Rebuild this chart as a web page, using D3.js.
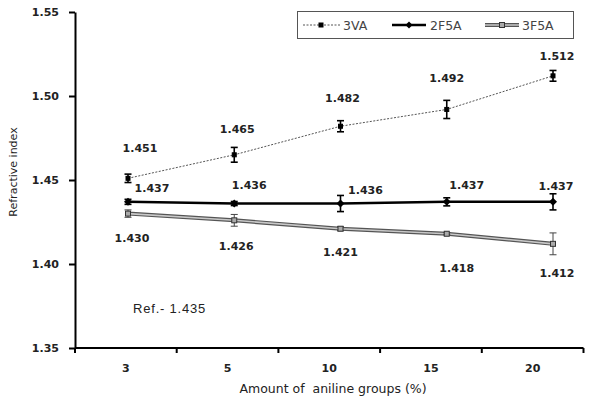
<!DOCTYPE html>
<html lang="en">
<head>
<meta charset="UTF-8">
<title>Refractive index</title>
<script src="https://d3js.org/d3.v7.min.js"></script>
<style>
    body { margin: 0; background: #fff; }
    text { font-family: "DejaVu Sans", sans-serif; }
    .val { font-size: 11px; font-weight: bold; fill: #222; }
    .tick text { font-size: 11px; font-weight: bold; fill: #222; }
</style>
</head>
<body>
<svg width="605" height="403"></svg>
<script>
    // data
    var categories = ["3", "5", "10", "15", "20"];
    var yTicks = [1.35, 1.40, 1.45, 1.50, 1.55];

    var va3     = [1.451, 1.465, 1.482, 1.492, 1.512];
    var va3Err  = [0.0025, 0.0044, 0.0033, 0.0054, 0.0032];
    var f5a2    = [1.437, 1.436, 1.436, 1.437, 1.437];
    var f5a2Err = [0.0015, 0.0012, 0.0048, 0.0024, 0.0048];
    var f5a3    = [1.430, 1.426, 1.421, 1.418, 1.412];
    var f5a3Err = [0.0022, 0.0035, 0.0012, 0.0006, 0.0065];

    // label offsets in px from each point (layout only)
    var va3Off  = [[12, -26], [3, -22], [2, -24], [0, -27], [4, -16]];
    var f5a2Off = [[24, -10], [15, -15], [25, -10], [20, -13], [3, -12]];
    var f5a3Off = [[4, 28], [2, 30], [0, 27], [10, 38], [4, 33]];

    var svg = d3.select("svg");

    var x = d3.scaleBand().domain(categories).range([75, 583.5]).padding(0);
    var xp = d3.scalePoint().domain(categories).range([128, 553]);
    var y = d3.scaleLinear().domain([1.35, 1.55]).range([348, 12]);

    // x axis
    var gx = svg.append("g").attr("transform", "translate(0,348)");
    gx.append("line").attr("x1", 75).attr("x2", 583.5)
        .attr("stroke", "#000").attr("stroke-width", 2);
    gx.selectAll(".xt").data(categories.concat(["end"]))
        .enter().append("line")
        .attr("x1", function(d, i) { return i < categories.length ? x(d) : x.range()[1]; })
        .attr("x2", function(d, i) { return i < categories.length ? x(d) : x.range()[1]; })
        .attr("y1", 0).attr("y2", 5)
        .attr("stroke", "#000").attr("stroke-width", 2);
    gx.selectAll(".xl").data(categories)
        .enter().append("text")
        .attr("class", "val")
        .attr("x", function(d) { return x(d) + x.bandwidth() / 2; })
        .attr("y", 24)
        .attr("text-anchor", "middle")
        .text(function(d) { return d; });

    // y axis
    var gy = svg.append("g").attr("transform", "translate(75,0)");
    gy.call(d3.axisLeft(y).tickValues(yTicks).tickFormat(d3.format(".2f"))
        .tickSizeInner(6).tickSizeOuter(0).tickPadding(10));
    gy.select(".domain").attr("stroke-width", 2);
    gy.selectAll(".tick line").attr("stroke-width", 2);

    svg.append("text")
        .attr("transform", "translate(17,172) rotate(-90)")
        .attr("text-anchor", "middle")
        .style("font-size", "11px").style("fill", "#222")
        .text("Refractive index");

    svg.append("text")
        .attr("x", 333).attr("y", 393)
        .attr("text-anchor", "middle")
        .style("font-size", "12.5px").style("fill", "#222")
        .style("white-space", "pre")
        .text("Amount of  aniline groups (%)");

    svg.append("text")
        .attr("x", 133).attr("y", 313)
        .style("font-size", "13px").style("fill", "#222")
        .style("letter-spacing", "0.8px")
        .style("font-family", "'Liberation Sans', sans-serif")
        .text("Ref.- 1.435");

    function pts(vals) {
        return vals.map(function(v, i) { return [xp(categories[i]), y(v)]; });
    }
    var line = d3.line();

    // 3F5A: grey double line
    svg.append("path").attr("d", line(pts(f5a3)))
        .attr("fill", "none").attr("stroke", "#555").attr("stroke-width", 4);
    svg.append("path").attr("d", line(pts(f5a3)))
        .attr("fill", "none").attr("stroke", "#c8c8c8").attr("stroke-width", 1.6);
    // 2F5A: thick black
    svg.append("path").attr("d", line(pts(f5a2)))
        .attr("fill", "none").attr("stroke", "#000").attr("stroke-width", 2.5);
    // 3VA: dotted
    svg.append("path").attr("d", line(pts(va3)))
        .attr("fill", "none").attr("stroke", "#555").attr("stroke-width", 1)
        .attr("stroke-dasharray", "2,1.5");

    function errorBars(vals, errs, color, width) {
        var g = svg.append("g");
        vals.forEach(function(v, i) {
            var cx = xp(categories[i]);
            var y1 = y(v - errs[i]), y2 = y(v + errs[i]);
            g.append("line").attr("x1", cx).attr("x2", cx).attr("y1", y1).attr("y2", y2)
                .attr("stroke", color).attr("stroke-width", width);
            [y1, y2].forEach(function(yy) {
                g.append("line").attr("x1", cx - 3.5).attr("x2", cx + 3.5).attr("y1", yy).attr("y2", yy)
                    .attr("stroke", color).attr("stroke-width", width);
            });
        });
    }
    errorBars(f5a3, f5a3Err, "#444", 1);
    errorBars(f5a2, f5a2Err, "#000", 1.6);
    errorBars(va3, va3Err, "#000", 1.6);

    function squareMarker(g, cx, cy, s, fill, stroke) {
        g.append("rect").attr("x", cx - s / 2).attr("y", cy - s / 2)
            .attr("width", s).attr("height", s)
            .attr("fill", fill).attr("stroke", stroke).attr("stroke-width", 1);
    }
    function diamondMarker(g, cx, cy, r) {
        g.append("path")
            .attr("d", "M" + cx + "," + (cy - r) + "L" + (cx + r) + "," + cy +
                "L" + cx + "," + (cy + r) + "L" + (cx - r) + "," + cy + "Z")
            .attr("fill", "#000");
    }

    var mk = svg.append("g");
    pts(f5a3).forEach(function(p) { squareMarker(mk, p[0], p[1], 5, "#aaa", "#333"); });
    pts(f5a2).forEach(function(p) { diamondMarker(mk, p[0], p[1], 4); });
    pts(va3).forEach(function(p) { squareMarker(mk, p[0], p[1], 4, "#000", "#000"); });

    function labels(vals, offs) {
        svg.append("g").selectAll("text").data(vals).enter().append("text")
            .attr("class", "val")
            .attr("text-anchor", "middle")
            .attr("x", function(d, i) { return xp(categories[i]) + offs[i][0]; })
            .attr("y", function(d, i) { return y(d) + offs[i][1]; })
            .text(function(d) { return d3.format(".3f")(d); });
    }
    labels(va3, va3Off);
    labels(f5a2, f5a2Off);
    labels(f5a3, f5a3Off);

    // legend
    var lg = svg.append("g");
    lg.append("rect").attr("x", 297.5).attr("y", 11.5).attr("width", 276).attr("height", 27)
        .attr("fill", "#fff").attr("stroke", "#555").attr("stroke-width", 1);
    var ly = 25;
    lg.append("line").attr("x1", 303).attr("x2", 341).attr("y1", ly).attr("y2", ly)
        .attr("stroke", "#555").attr("stroke-dasharray", "2,1.5");
    squareMarker(lg, 321, ly, 4, "#000", "#000");
    lg.append("line").attr("x1", 392).attr("x2", 426).attr("y1", ly).attr("y2", ly)
        .attr("stroke", "#000").attr("stroke-width", 2.5);
    diamondMarker(lg, 409, ly, 3.5);
    lg.append("line").attr("x1", 485).attr("x2", 519).attr("y1", ly).attr("y2", ly)
        .attr("stroke", "#555").attr("stroke-width", 4);
    lg.append("line").attr("x1", 485).attr("x2", 519).attr("y1", ly).attr("y2", ly)
        .attr("stroke", "#c8c8c8").attr("stroke-width", 1.6);
    squareMarker(lg, 502, ly, 5, "#aaa", "#333");

    [["3VA", 343], ["2F5A", 430], ["3F5A", 522]].forEach(function(d) {
        lg.append("text").attr("x", d[1]).attr("y", ly + 4.5)
            .style("font-size", "12.5px").style("fill", "#444")
            .text(d[0]);
    });
</script>
</body>
</html>
